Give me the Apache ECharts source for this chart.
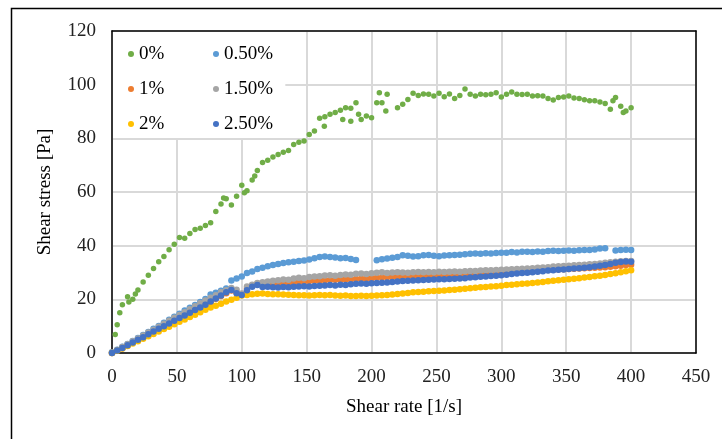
<!DOCTYPE html>
<html>
<head>
<meta charset="utf-8">
<script src="https://cdn.jsdelivr.net/npm/echarts@6/dist/echarts.min.js"></script>
<style>
  html, body { margin: 0; padding: 0; background: #fff; }
  #chart { width: 722px; height: 439px; }
</style>
</head>
<body>
<div id="chart"></div>
<script>
// shear rate grid shared by the six samples [1/s]
const rate = [
  0, 4, 8, 12, 16, 20, 24, 28, 32, 36,
  40, 44, 48, 52, 56, 60, 64, 68, 72, 76,
  80, 84, 88, 92, 96, 100, 104, 108, 112, 116,
  120, 124, 128, 132, 136, 140, 144, 148, 152, 156,
  160, 164, 168, 172, 176, 180, 184, 188, 192, 196,
  200, 204, 208, 212, 216, 220, 224, 228, 232, 236,
  240, 244, 248, 252, 256, 260, 264, 268, 272, 276,
  280, 284, 288, 292, 296, 300, 304, 308, 312, 316,
  320, 324, 328, 332, 336, 340, 344, 348, 352, 356,
  360, 364, 368, 372, 376, 380, 384, 388, 392, 396,
  400
]

// shear stress [Pa]
const stress0 = [
  null, 10.5, 18, 21, 20, 23.5, 26.5, 29, 31.5, 34,
  36, 38.5, 40.5, 43, 42.8, 44.5, 46, 46.5, 47.5, 48.5,
  52.7, 55.5, 57.5, 55.2, 58.4, 62.5, 60.5, 64.5, 68, 71,
  71.8, 73, 74, 74.8, 75.5, 77.7, 78.5, 79, 81.4, 82.7,
  87.5, 88, 89, 89.6, 90.5, 91.4, 91.2, 93.3, 87, 88.3,
  87.7, 93.3, 93.3, 96.4, null, 91.4, 92.7, 94.5, 96.8, 96,
  96.5, 96.4, 95.8, 96.8, 95.5, 96.5, 94.8, 96, 98.4, 96.4,
  95.8, 96.4, 96.2, 96.4, 97, 95.4, 96.4, 97.3, 96.4, 96.3,
  96.4, 95.8, 95.9, 95.8, 94.8, 94.3, 95.2, 95.4, 95.8, 95,
  94.8, 94.4, 94, 94, 93.5, 93, 90.8, 95.2, 92, 90.2,
  91.4
]
// a few 0% readings off the grid
const extraRate0 = [2.5, 6, 13, 18, 86, 102, 110, 163.6, 177.8, 184, 190, 206, 211, 386, 394]
const extraStress0 = [6.9, 15, 19, 22, 57.8, 59.7, 66, 84.5, 87, 86.4, 89, 97, 90.2, 94, 89.6]

const stress05 = [
  0.3, 1.2, 2.3, 3.4, 4.5, 5.6, 6.7, 7.8, 9, 10.1,
  11.3, 12.4, 13.5, 14.6, 15.8, 16.9, 17.9, 19, 20.1, 21.8,
  22.5, 23.2, 24, 27, 27.8, 28.5, 29.8, 30.4, 31.3, 31.8,
  32.3, 32.8, 33.2, 33.5, 33.8, 34, 34.3, 34.5, 34.8, 35.3,
  35.8, 36, 35.8, 35.6, 35.3, 35.4, 35, 34.7, null, null,
  null, 34.6, 34.9, 35.2, 35.5, 35.8, 36.4, 36.2, 36, 36.1,
  36.4, 36.5, 36.2, 36.1, 36.3, 36.4, 36.5, 36.6, 36.8, 37,
  37.1, 37, 37.2, 37.1, 37.3, 37.4, 37.4, 37.6, 37.5, 37.7,
  37.7, 37.6, 37.8, 37.7, 38, 38.1, 38, 38.1, 38.2, 38.1,
  38.3, 38.4, 38.4, 38.6, 38.9, 39, null, 38.2, 38.4, 38.5,
  38.4
]

const stress1 = [
  0, 0.9, 1.8, 2.8, 3.8, 4.8, 5.8, 6.8, 7.8, 8.8,
  9.8, 10.8, 11.8, 12.8, 13.8, 14.8, 15.8, 16.8, 17.8, 19,
  20.2, 21.2, 22.3, 23.3, 22.5, 22, 24, 25.2, 25.8, 25.6,
  25.7, 25.8, 25.9, 26.1, 26.2, 26.3, 26.5, 26.6, 26.8, 26.9,
  27, 27.1, 27.2, 27.3, 27.3, 27.4, 27.5, 27.6, 27.7, 27.8,
  27.9, 28, 28.1, 28.2, 28.3, 28.4, 28.5, 28.6, 28.6, 28.7,
  28.7, 28.8, 28.8, 28.9, 28.9, 29, 29, 29.1, 29.1, 29.2,
  29.3, 29.4, 29.5, 29.6, 29.7, 29.8, 29.9, 30, 30.1, 30.2,
  30.3, 30.5, 30.6, 30.8, 30.9, 31, 31.1, 31.2, 31.3, 31.4,
  31.5, 31.6, 31.7, 31.8, 31.9, 32, 32.1, 32.3, 32.5, 32.8,
  32.9
]

const stress15 = [
  0.2, 1.1, 2.2, 3.3, 4.4, 5.4, 6.5, 7.6, 8.7, 9.8,
  10.9, 12, 13.1, 14.2, 15.2, 16.3, 17.4, 18.5, 19.6, 20.6,
  21.5, 22.6, 23.4, 24.2, 23.6, 22.2, 24.8, 25.4, 26.1, 26.4,
  26.6, 26.9, 27.1, 27.4, 27.3, 27.8, 28, 27.9, 28.3, 28.5,
  28.6, 28.9, 29, 28.8, 29.1, 29.3, 29.2, 29.5, 29.6, 29.4,
  29.7, 29.9, 30.1, 29.8, 30, 30.1, 30, 29.9, 30.1, 30.2,
  30.1, 30.2, 30.1, 30.3, 30.2, 30.3, 30.4, 30.3, 30.5, 30.6,
  30.6, 30.7, 30.8, 30.8, 30.9, 31, 31.1, 31.2, 31.3, 31.4,
  31.5, 31.6, 31.8, 31.9, 32, 32.2, 32.3, 32.4, 32.5, 32.7,
  32.8, 32.9, 33.1, 33.2, 33.4, 33.6, 33.8, 34, 34.2, 34.3,
  34.3
]

const stress2 = [
  0, 0.8, 1.7, 2.6, 3.5, 4.4, 5.3, 6.2, 7.1, 8,
  8.9, 9.8, 10.7, 11.6, 12.5, 13.4, 14.3, 15.2, 16.1, 17,
  17.6, 18.4, 19.2, 19.8, 20.6, 21.4, 21.6, 21.9, 22.1, 22.2,
  22, 21.9, 21.9, 21.8, 21.7, 21.6, 21.5, 21.5, 21.4, 21.5,
  21.6, 21.5, 21.6, 21.4, 21.3, 21.4, 21.2, 21.2, 21.3, 21.2,
  21.3, 21.4, 21.5, 21.6, 21.8, 22, 22.2, 22.4, 22.6, 22.7,
  22.8, 23, 23.1, 23.2, 23.3, 23.5, 23.6, 23.8, 23.9, 24.1,
  24.3, 24.5, 24.6, 24.8, 24.9, 25.1, 25.3, 25.4, 25.6, 25.8,
  25.9, 26.1, 26.3, 26.5, 26.7, 26.9, 27.1, 27.3, 27.5, 27.7,
  27.9, 28.1, 28.3, 28.6, 28.8, 29.1, 29.4, 29.7, 30.1, 30.5,
  30.8
]

const stress25 = [
  0, 0.9, 1.9, 2.9, 3.9, 4.9, 5.9, 7, 8, 9,
  10, 11, 12, 13, 14, 15, 16, 17, 18, 19.2,
  20.3, 21.4, 22.6, 23.5, 22.3, 21.6, 23.4, 24.7, 25.3, 24.6,
  24.7, 24.5, 24.4, 24.6, 24.5, 24.7, 24.8, 24.9, 24.8, 25,
  25.1, 25.2, 25.3, 25.2, 25.4, 25.3, 25.6, 25.8, 25.9, 25.8,
  26, 26.1, 26.2, 26.3, 26.5, 26.6, 26.8, 26.9, 27, 27.1,
  27.2, 27.3, 27.4, 27.5, 27.5, 27.6, 27.7, 27.8, 27.9, 28.1,
  28.2, 28.4, 28.5, 28.7, 28.8, 29, 29.2, 29.4, 29.6, 29.8,
  29.9, 30.1, 30.3, 30.5, 30.7, 30.8, 31, 31.1, 31.3, 31.5,
  31.6, 31.8, 32, 32.2, 32.5, 32.8, 33.2, 33.6, 33.9, 34.1,
  34
]

const names = ['0%', '0.50%', '1%', '1.50%', '2%', '2.50%']
const colors = ['#70AD47', '#5B9BD5', '#ED7D31', '#A5A5A5', '#FFC000', '#4472C4']
const xTicks = [0, 50, 100, 150, 200, 250, 300, 350, 400, 450]
const yTicks = [0, 20, 40, 60, 80, 100, 120]

const font = "'Liberation Serif', 'Times New Roman', serif"

function pairs(xs, ys) {
  const out = []
  xs.forEach((x, i) => {
    if (ys[i] !== null) out.push([x, ys[i]])
  })
  return out
}

const seriesData = [
  pairs(rate, stress0).concat(pairs(extraRate0, extraStress0)),
  pairs(rate, stress05),
  pairs(rate, stress1),
  pairs(rate, stress15),
  pairs(rate, stress2),
  pairs(rate, stress25)
]

const chart = echarts.init(document.getElementById('chart'))

const legendText = { fontFamily: font, fontSize: 19, color: '#000', lineHeight: 20 }
const labelStyle = { fontFamily: font, fontSize: 19, color: '#222' }
const nameStyle = { fontFamily: font, fontSize: 19, color: '#000' }
const frameLine = { show: true, onZero: false, lineStyle: { color: '#000', width: 1.5 } }
const gridLine = { show: true, lineStyle: { color: '#d9d9d9', width: 2 } }

chart.setOption({
  animation: false,
  color: colors,
  graphic: [{
    type: 'rect',
    silent: true,
    z: -1,
    shape: { x: 11.5, y: 8.5, width: 800, height: 500 },
    style: { fill: 'none', stroke: '#000', lineWidth: 1.5 }
  }],
  grid: { left: 112, top: 31, right: 26, bottom: 86 },
  legend: [{
    data: ['0%', '1%', '2%'],
    orient: 'vertical',
    left: 113,
    top: 32,
    padding: [12, 121, 4, 15],
    itemGap: 15,
    itemWidth: 6,
    itemHeight: 6,
    itemTextGap: 8,
    icon: 'circle',
    backgroundColor: '#fff',
    textStyle: legendText,
    z: 4
  }, {
    data: ['0.50%', '1.50%', '2.50%'],
    orient: 'vertical',
    left: 213,
    top: 44,
    padding: 0,
    itemGap: 15,
    itemWidth: 6,
    itemHeight: 6,
    itemTextGap: 8,
    icon: 'circle',
    textStyle: legendText,
    z: 5
  }],
  xAxis: [{
    type: 'value',
    min: xTicks[0],
    max: xTicks[xTicks.length - 1],
    interval: 50,
    name: 'Shear rate [1/s]',
    nameLocation: 'middle',
    nameGap: 45,
    nameTextStyle: nameStyle,
    axisLine: frameLine,
    axisTick: { show: false },
    axisLabel: Object.assign({ margin: 15 }, labelStyle),
    splitLine: gridLine
  }, {
    type: 'value',
    position: 'top',
    min: xTicks[0],
    max: xTicks[xTicks.length - 1],
    interval: 50,
    axisLine: frameLine,
    axisTick: { show: false },
    axisLabel: { show: false },
    splitLine: { show: false }
  }],
  yAxis: [{
    type: 'value',
    min: yTicks[0],
    max: yTicks[yTicks.length - 1],
    interval: 20,
    name: 'Shear stress [Pa]',
    nameLocation: 'middle',
    nameGap: 57,
    nameTextStyle: nameStyle,
    axisLine: frameLine,
    axisTick: { show: false },
    axisLabel: Object.assign({ margin: 16 }, labelStyle),
    splitLine: gridLine
  }, {
    type: 'value',
    position: 'right',
    min: yTicks[0],
    max: yTicks[yTicks.length - 1],
    interval: 20,
    axisLine: frameLine,
    axisTick: { show: false },
    axisLabel: { show: false },
    splitLine: { show: false }
  }],
  series: names.map((name, i) => ({
    name: name,
    type: 'scatter',
    data: seriesData[i],
    symbol: 'circle',
    symbolSize: i === 0 ? 5.5 : 6.5,
    itemStyle: { color: colors[i], opacity: 1 },
    emphasis: { disabled: true }
  }))
})
</script>
</body>
</html>
